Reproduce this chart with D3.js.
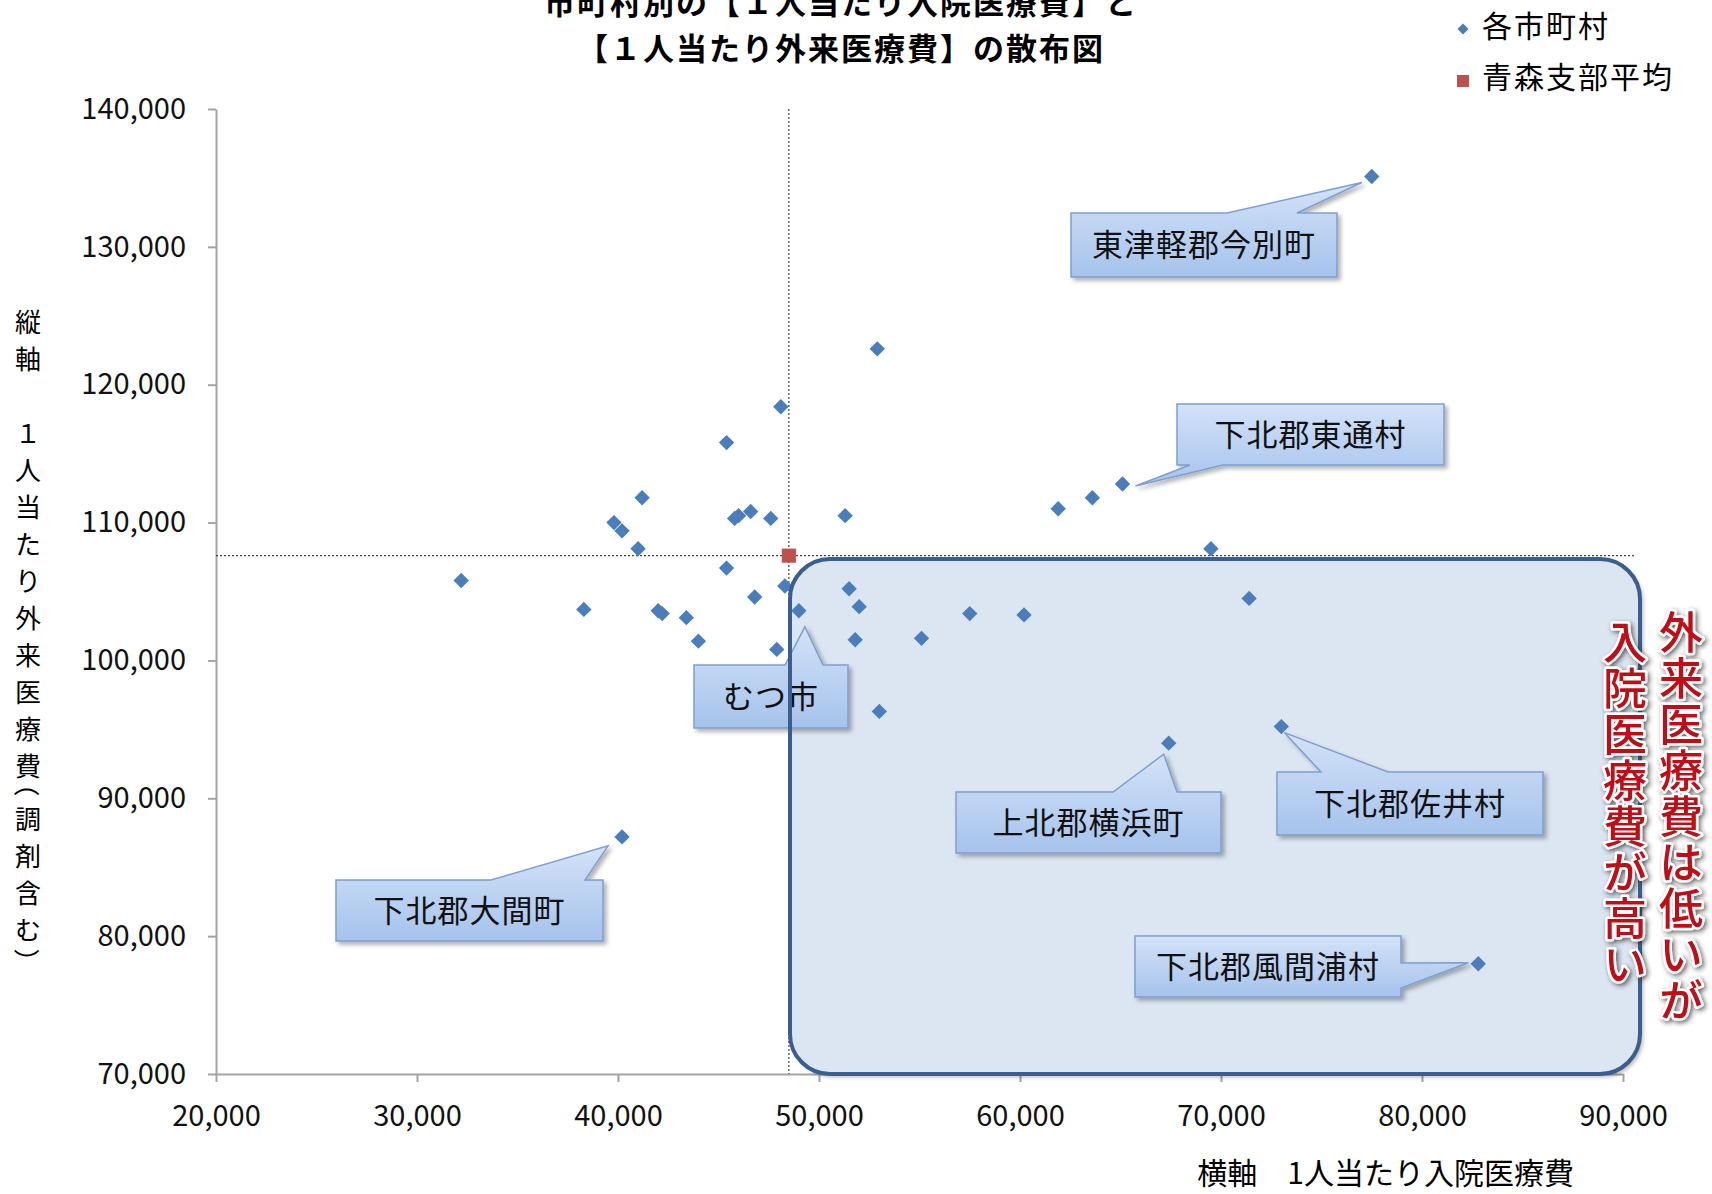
<!DOCTYPE html>
<html>
<head>
<meta charset="utf-8">
<script src="https://cdn.jsdelivr.net/npm/d3@7"></script>
<style>
body{margin:0;background:#fff;}
svg{display:block;font-family:"Noto Sans CJK JP","Noto Sans",sans-serif;}
</style>
</head>
<body>
<svg id="chart" width="1712" height="1194"></svg>
<script>
// 1人当たり入院医療費 (x) / 1人当たり外来医療費 (y), one entry per town
var inpatient = [77500,52900,48100,45400,41200,39800,40200,41000,32200,38300,42000,42200,43400,44000,45400,45800,46000,46600,47600,46800,48300,47900,49000,51300,51500,52000,51800,53000,55100,57500,60200,61900,63600,65100,69500,71400,73000,67400,40200,82800]
var outpatient = [135100,122600,118400,115800,111800,110000,109400,108100,105800,103700,103600,103400,103100,101400,106700,110300,110500,110800,110300,104600,105400,100800,103600,110500,105200,103900,101500,96300,101600,103400,103300,111000,111800,112800,108100,104500,95200,94000,87200,78000]
var branchAvg = [48500,107600]
var xTicks = [20000,30000,40000,50000,60000,70000,80000,90000]
var yTicks = [70000,80000,90000,100000,110000,120000,130000,140000]
var calloutNames = ["東津軽郡今別町","下北郡東通村","むつ市","上北郡横浜町","下北郡佐井村","下北郡大間町","下北郡風間浦村"]
var calloutTargets = [0,33,22,37,36,38,39]
var titleLines = ["市町村別の【１人当たり入院医療費】と","【１人当たり外来医療費】の散布図"]
var legendNames = ["各市町村","青森支部平均"]
var yTitle = "縦軸　１人当たり外来医療費（調剤含む）"
var xTitle = "横軸　1人当たり入院医療費"
var note = ["外来医療費は低いが","入院医療費が高い"]

// callout box layout (pixels), kept apart from the data
var calloutBoxes = [
    {x:1071,y:213,w:266,h:64,edge:"top",a:1227,b:1297,dx:-10,dy:6},
    {x:1177,y:404,w:267,h:61,edge:"bottom",a:1190,b:1223,dx:13,dy:2},
    {x:694,y:665,w:154,h:63,edge:"top",a:785,b:823,dx:6,dy:16},
    {x:956,y:792,w:265,h:61,edge:"top",a:1113,b:1177,dx:-5,dy:11},
    {x:1277,y:772,w:266,h:63,edge:"top",a:1321,b:1388,dx:3,dy:6},
    {x:336,y:880,w:267,h:61,edge:"top",a:491,b:585,dx:-14,dy:9},
    {x:1135,y:936,w:266,h:61,edge:"right",a:963,b:988,dx:-10,dy:-1}
]

var svg = d3.select("#chart")
var x = d3.scaleLinear().domain([20000,90000]).range([216,1623])
var y = d3.scaleLinear().domain([70000,140000]).range([1074,109])
var fmt = d3.format(",")

var defs = svg.append("defs")
var grad = defs.append("linearGradient").attr("id","cg").attr("x1",0).attr("y1",0).attr("x2",0).attr("y2",1)
grad.append("stop").attr("offset","0%").attr("stop-color","#d3e2f8")
grad.append("stop").attr("offset","100%").attr("stop-color","#a6c3ec")
var sh = defs.append("filter").attr("id","shadow").attr("x","-10%").attr("y","-10%").attr("width","130%").attr("height","140%")
sh.append("feDropShadow").attr("dx",3).attr("dy",3).attr("stdDeviation",2).attr("flood-color","#000").attr("flood-opacity",0.3)
var rsh = defs.append("filter").attr("id","rshadow").attr("x","-30%").attr("y","-10%").attr("width","160%").attr("height","130%")
rsh.append("feDropShadow").attr("dx",2).attr("dy",2).attr("stdDeviation",2.5).attr("flood-color","#222").attr("flood-opacity",0.7)

// title (first line runs off the top edge as in the source)
svg.selectAll(".title").data(titleLines).enter().append("text")
    .attr("class","title")
    .attr("x",841)
    .attr("y",function(d,i){return 14+i*46})
    .attr("text-anchor","middle")
    .attr("font-size",31)
    .attr("font-weight","bold")
    .attr("letter-spacing",2)
    .text(function(d){return d})

// axes
var xAxis = svg.append("g").attr("transform","translate(0,"+y(70000)+")")
    .call(d3.axisBottom(x).tickValues(xTicks).tickFormat(fmt).tickSize(8).tickSizeOuter(0).tickPadding(23))
var yAxis = svg.append("g").attr("transform","translate("+x(20000)+",0)")
    .call(d3.axisLeft(y).tickValues(yTicks).tickFormat(fmt).tickSize(8).tickSizeOuter(0).tickPadding(22))
svg.selectAll(".domain, .tick line").attr("stroke","#a3a3a3").attr("stroke-width",2)
svg.selectAll(".tick text").attr("font-size",29).attr("fill","#111").attr("font-family","'Noto Sans CJK JP','Noto Sans',sans-serif")

// axis titles
svg.append("text")
    .attr("x",1574).attr("y",1184)
    .attr("text-anchor","end")
    .attr("font-size",30)
    .text(xTitle)

// vertical title, one glyph per slot, brackets take a half slot
var ych = Array.from(yTitle), yPos = [], cur = 320
ych.forEach(function(c,i){
    var half = (c=="（"||c=="）")
    if(i>0)
    {
        var prevHalf = (ych[i-1]=="（"||ych[i-1]=="）")
        cur += (prevHalf ? 8 : 18.5) + (half ? 8 : 18.5)
    }
    yPos.push(cur)
})
svg.selectAll(".ytitle").data(ych).enter().append("text")
    .attr("class","ytitle")
    .attr("x",28)
    .attr("y",function(d,i){return yPos[i]})
    .attr("text-anchor","middle")
    .attr("dominant-baseline","central")
    .attr("font-size",26)
    .attr("transform",function(d,i){
        if(d=="（") return "rotate(90,28,"+yPos[i]+") translate(-7,0)"
        if(d=="）") return "rotate(90,28,"+yPos[i]+") translate(7,0)"
        return null
    })
    .text(function(d){return d})

// average crosshair
svg.append("line")
    .attr("x1",x(branchAvg[0])).attr("x2",x(branchAvg[0]))
    .attr("y1",y(140000)).attr("y2",y(70000))
    .attr("stroke","#444").attr("stroke-width",1.2).attr("stroke-dasharray","2,2")
svg.append("line")
    .attr("x1",x(20000)).attr("x2",x(90550))
    .attr("y1",y(branchAvg[1])).attr("y2",y(branchAvg[1]))
    .attr("stroke","#444").attr("stroke-width",1.2).attr("stroke-dasharray","2,2")

// highlighted region
var box = {x:790,y:559,w:850,h:515,r:40}
svg.append("rect")
    .attr("x",box.x).attr("y",box.y).attr("width",box.w).attr("height",box.h)
    .attr("rx",box.r).attr("ry",box.r)
    .attr("fill","#dce6f2")
    .attr("filter","url(#shadow)")

// towns
svg.selectAll(".pt").data(inpatient).enter().append("path")
    .attr("class","pt")
    .attr("d",d3.symbol(d3.symbolSquare,118))
    .attr("transform",function(d,i){return "translate("+x(d)+","+y(outpatient[i])+") rotate(45)"})
    .attr("fill","#4a7ebb")

// branch average
svg.append("path")
    .attr("d",d3.symbol(d3.symbolSquare,200))
    .attr("transform","translate("+x(branchAvg[0])+","+y(branchAvg[1])+")")
    .attr("fill","#c0504d")

// callouts
function calloutPath(b,tx,ty)
{
    var r = b.x+b.w, btm = b.y+b.h
    if(b.edge=="top")
        return "M"+b.x+","+b.y+"L"+b.a+","+b.y+"L"+tx+","+ty+"L"+b.b+","+b.y+"L"+r+","+b.y+"L"+r+","+btm+"L"+b.x+","+btm+"Z"
    if(b.edge=="bottom")
        return "M"+b.x+","+b.y+"L"+r+","+b.y+"L"+r+","+btm+"L"+b.b+","+btm+"L"+tx+","+ty+"L"+b.a+","+btm+"L"+b.x+","+btm+"Z"
    return "M"+b.x+","+b.y+"L"+r+","+b.y+"L"+r+","+b.a+"L"+tx+","+ty+"L"+r+","+b.b+"L"+r+","+btm+"L"+b.x+","+btm+"Z"
}
var co = svg.selectAll(".callout").data(calloutNames).enter().append("g").attr("class","callout")
co.append("path")
    .attr("d",function(d,i){
        var b = calloutBoxes[i], k = calloutTargets[i]
        return calloutPath(b,x(inpatient[k])+b.dx,y(outpatient[k])+b.dy)
    })
    .attr("fill","url(#cg)")
    .attr("stroke","#7f9fcf")
    .attr("stroke-width",1.5)
    .attr("filter","url(#shadow)")
co.append("text")
    .attr("x",function(d,i){return calloutBoxes[i].x+calloutBoxes[i].w/2})
    .attr("y",function(d,i){return calloutBoxes[i].y+calloutBoxes[i].h/2})
    .attr("dy","0.36em")
    .attr("text-anchor","middle")
    .attr("font-size",31)
    .attr("letter-spacing",1)
    .attr("fill","#111")
    .text(function(d){return d})

// region border on top
svg.append("rect")
    .attr("x",box.x).attr("y",box.y).attr("width",box.w).attr("height",box.h)
    .attr("rx",box.r).attr("ry",box.r)
    .attr("fill","none")
    .attr("stroke","#3a5f8f")
    .attr("stroke-width",4)

// red note
svg.selectAll(".note").data(note).enter().append("text")
    .attr("class","note")
    .attr("x",function(d,i){return i==0 ? 1681 : 1625})
    .attr("y",function(d,i){return i==0 ? 610 : 620})
    .attr("writing-mode","vertical-rl")
    .attr("font-size",44)
    .attr("font-weight",500)
    .attr("letter-spacing",2)
    .attr("fill","#c00c16")
    .attr("stroke","#fff")
    .attr("stroke-width",5)
    .attr("paint-order","stroke")
    .attr("stroke-linejoin","round")
    .attr("filter","url(#rshadow)")
    .text(function(d){return d})

// legend
var lg = svg.append("g")
lg.append("path")
    .attr("d",d3.symbol(d3.symbolSquare,60))
    .attr("transform","translate(1463,29) rotate(45)")
    .attr("fill","#4a7ebb")
lg.append("path")
    .attr("d",d3.symbol(d3.symbolSquare,144))
    .attr("transform","translate(1463,81)")
    .attr("fill","#c0504d")
lg.selectAll("text").data(legendNames).enter().append("text")
    .attr("x",1482)
    .attr("y",function(d,i){return 37+i*51})
    .attr("font-size",30)
    .attr("letter-spacing",2)
    .text(function(d){return d})
</script>
</body>
</html>
